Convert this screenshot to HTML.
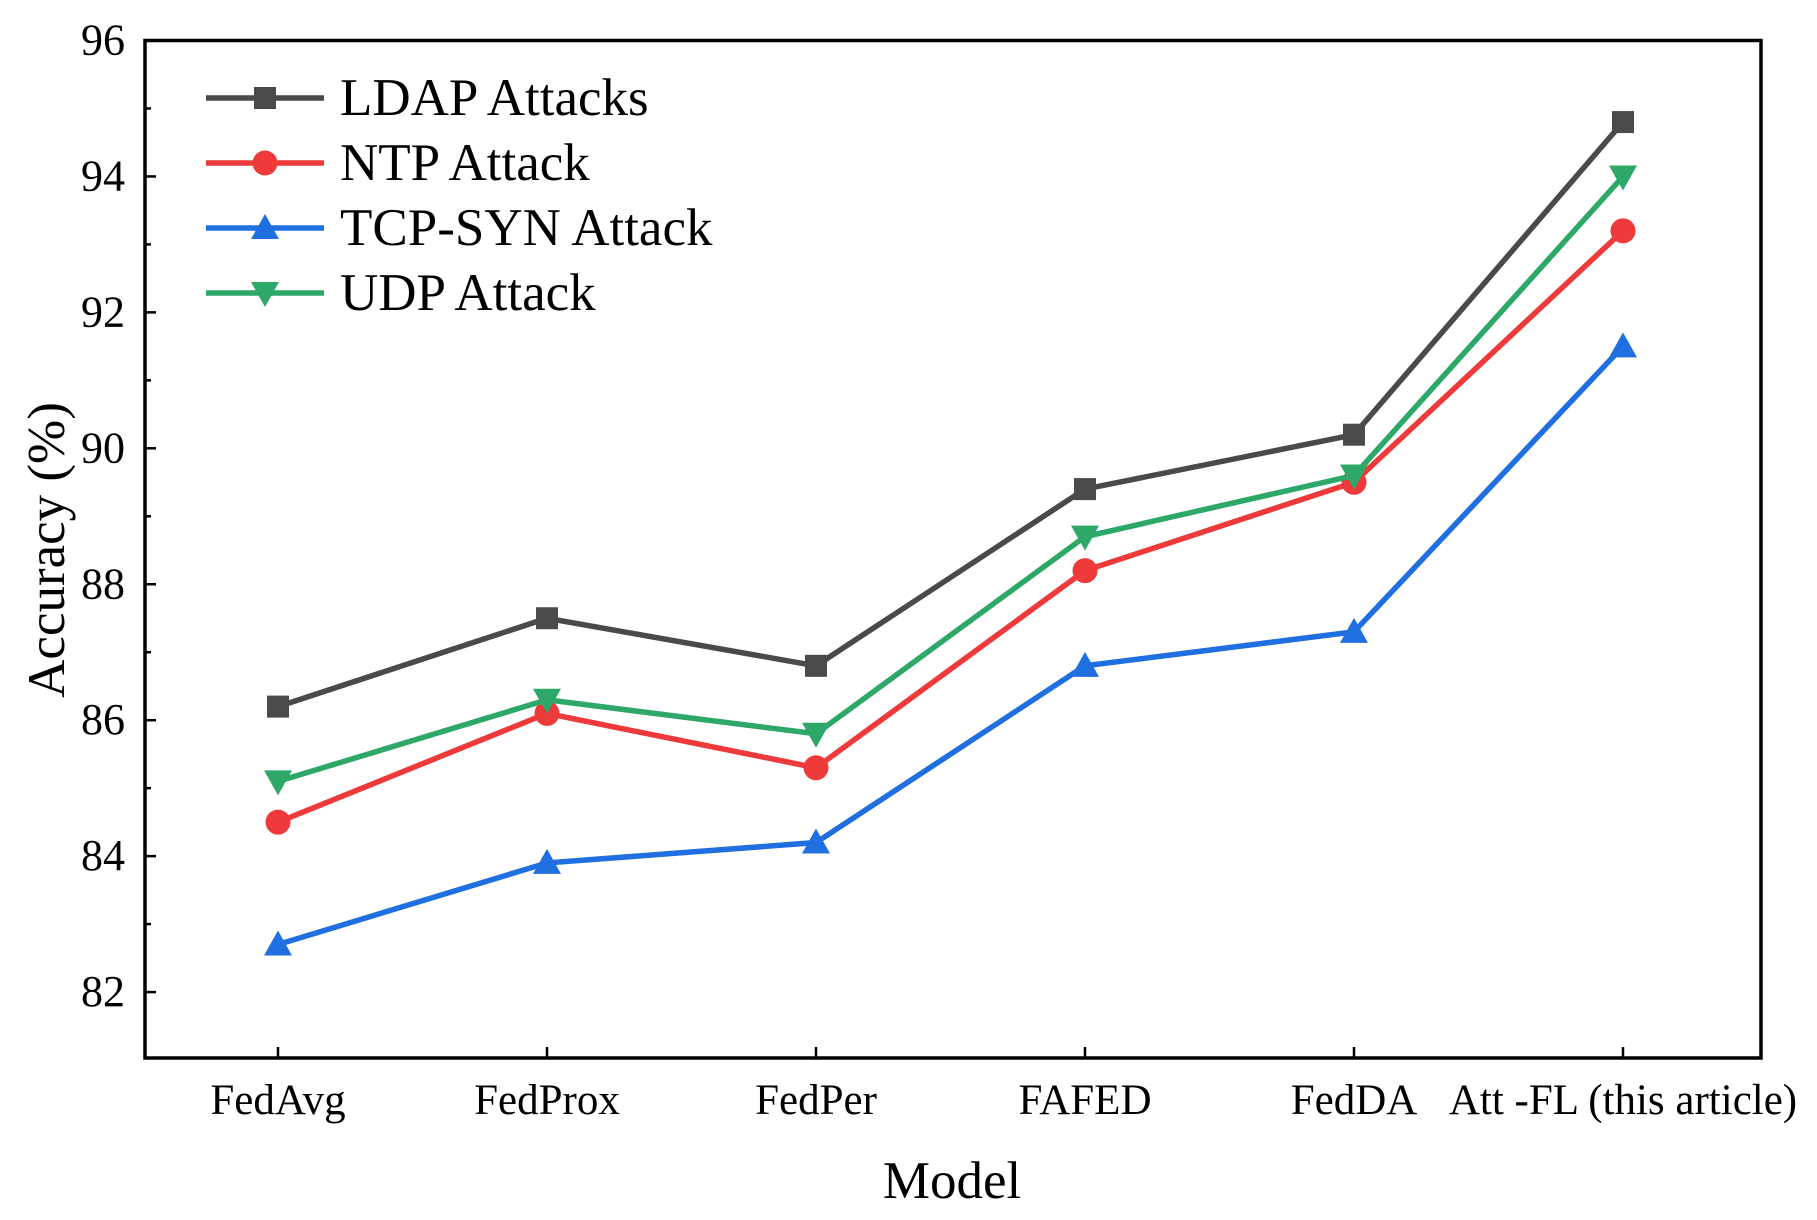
<!DOCTYPE html>
<html><head><meta charset="utf-8"><style>
html,body{margin:0;padding:0;background:#fff;}
svg{display:block;font-family:"Liberation Serif",serif;}
</style></head><body>
<svg id="chart" width="1817" height="1220" viewBox="0 0 1817 1220"></svg>
<script>
const categories=["FedAvg","FedProx","FedPer","FAFED","FedDA","Att -FL (this article)"];
const ldap=[86.2,87.5,86.8,89.4,90.2,94.8];
const ntp=[84.5,86.1,85.3,88.2,89.5,93.2];
const tcp=[82.7,83.9,84.2,86.8,87.3,91.5];
const udp=[85.1,86.3,85.8,88.7,89.6,94.0];
const yTicks=[82,84,86,88,90,92,94,96];
const seriesNames=["LDAP Attacks","NTP Attack","TCP-SYN Attack","UDP Attack"];
const L=145,R=1761,T=40.5,B=1058;
const yMin=81.03,yMax=96;
const cx0=278,cx1=1623;
function X(i){return cx0+(cx1-cx0)*i/(categories.length-1);}
function Y(v){return B-(v-yMin)/(yMax-yMin)*(B-T);}
const svg=document.getElementById('chart');
const NS="http://www.w3.org/2000/svg";
function el(tag,attrs,parent){const e=document.createElementNS(NS,tag);for(const k in attrs)e.setAttribute(k,attrs[k]);(parent||svg).appendChild(e);return e;}
const frame=el('rect',{x:L,y:T,width:R-L,height:B-T,fill:'none',stroke:'#000','stroke-width':3.5});


yTicks.forEach(v=>{
  const t=el('line',{x1:L,x2:L+11,y1:Y(v),y2:Y(v),stroke:'#000','stroke-width':2.5});
  
  
  const m=el('line',{x1:L,x2:L+6,y1:Y(v+1),y2:Y(v+1),stroke:'#000','stroke-width':2.5});
  
  
  const tx=el('text',{x:L-20,y:Y(v)+14,'text-anchor':'end','font-size':44});
  tx.textContent=v;
  
  
});
categories.forEach((c,i)=>{
  const t=el('line',{x1:X(i),x2:X(i),y1:B,y2:B-11,stroke:'#000','stroke-width':2.5});
  
  
  const tx=el('text',{x:X(i),y:1114,'text-anchor':'middle','font-size':43});
  tx.textContent=c;
  
  
});
const xt=el('text',{x:952,y:1198,'text-anchor':'middle','font-size':53});
xt.textContent="Model";


const yt=el('text',{x:0,y:0,'text-anchor':'middle','font-size':53,transform:'translate(64,550) rotate(-90)'});
yt.textContent="Accuracy (%)";


function marker(type,x,y,color,g){
  let m;
  if(type==='square')m=el('rect',{x:x-11,y:y-11,width:22,height:22,fill:color},g);
  else if(type==='circle')m=el('circle',{cx:x,cy:y,r:12.5,fill:color},g);
  else if(type==='up')m=el('polygon',{points:`${x},${y-14} ${x-14},${y+11} ${x+14},${y+11}`,fill:color},g);
  else m=el('polygon',{points:`${x},${y+14} ${x-14},${y-11} ${x+14},${y-11}`,fill:color},g);
  return m;
}
const series=[[ldap,'#4a4a4a','square'],[ntp,'#ee3a3a','circle'],[tcp,'#1f6fe0','up'],[udp,'#2ea868','down']];
series.forEach(([d,col,mk],si)=>{
  const g=el('g',{});
  
  
  el('polyline',{points:d.map((v,i)=>X(i)+','+Y(v)).join(' '),fill:'none',stroke:col,'stroke-width':5.5,'stroke-linejoin':'miter'},g);
  d.forEach((v,i)=>{
    const m=marker(mk,X(i),Y(v),col,g);
    
    
  });
  const ly=98+si*65;
  const lg=el('g',{});
  
  
  el('line',{x1:206,x2:324,y1:ly,y2:ly,stroke:col,'stroke-width':5.5},lg);
  marker(mk,265,ly,col,lg);
  const t=el('text',{x:340,y:ly+17,'font-size':53},lg);
  t.textContent=seriesNames[si];
});
</script>
</body></html>
